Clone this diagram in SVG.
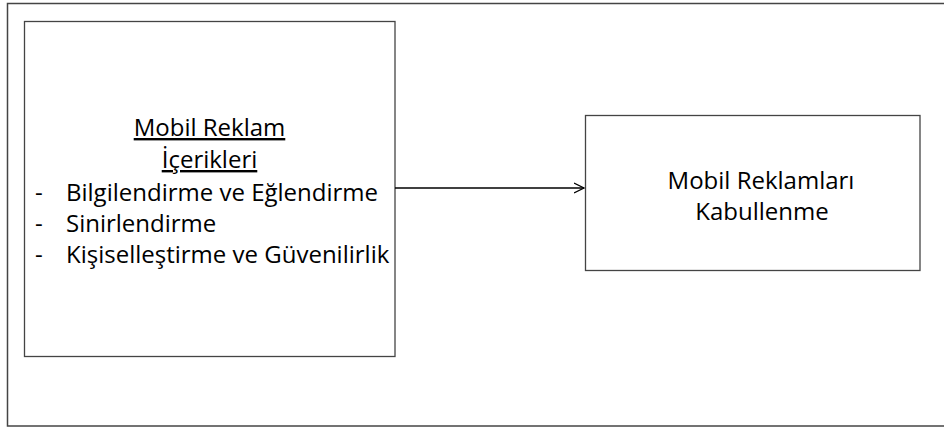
<svg xmlns="http://www.w3.org/2000/svg" width="944" height="428" viewBox="0 0 944 428">
<defs>
<style>
.t{font-family:"Open Sans","Liberation Sans",sans-serif;font-size:24px;fill:#000}
.box{fill:#fff;stroke:#444;stroke-width:1.3}
</style>
<marker id="arr" markerWidth="12" markerHeight="12" refX="10" refY="6" orient="auto" markerUnits="userSpaceOnUse">
<path d="M0,1 L10,6 L0,11" fill="none" stroke="#000" stroke-width="1.3"/>
</marker>
</defs>
<rect width="944" height="428" fill="#fff"/>
<rect id="frame" x="7.5" y="3.5" width="960" height="422.5" fill="none" stroke="#444" stroke-width="1.5"/>
<g id="node-icerik">
<rect class="box" x="24.5" y="21.5" width="370.5" height="335"/>
<text class="t" x="209.5" y="136" text-anchor="middle" text-decoration="underline">Mobil Reklam</text>
<text class="t" x="209.5" y="168" text-anchor="middle" text-decoration="underline">İçerikleri</text>
<text class="t" x="35" y="201">-</text>
<text class="t" x="66" y="201">Bilgilendirme ve Eğlendirme</text>
<text class="t" x="35" y="232">-</text>
<text class="t" x="66" y="232">Sinirlendirme</text>
<text class="t" x="35" y="263">-</text>
<text class="t" x="66" y="263">Kişiselleştirme ve Güvenilirlik</text>
</g>
<g id="node-kabul">
<rect class="box" x="585.5" y="115.5" width="334.5" height="155"/>
<text class="t" x="761" y="189" text-anchor="middle">Mobil Reklamları</text>
<text class="t" x="762" y="220" text-anchor="middle">Kabullenme</text>
</g>
<g id="connectors">
<line x1="395" y1="188" x2="584" y2="188" stroke="#000" stroke-width="1.3" marker-end="url(#arr)"/>
</g>
</svg>
